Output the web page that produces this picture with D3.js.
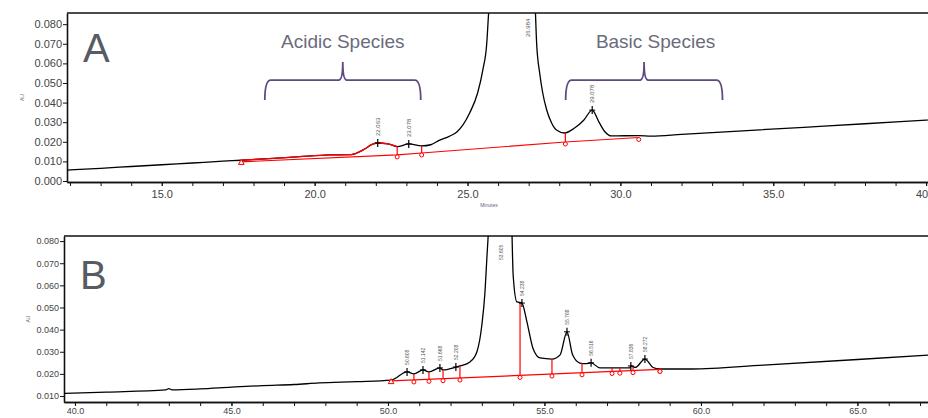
<!DOCTYPE html>
<html>
<head>
<meta charset="utf-8">
<script src="https://cdn.jsdelivr.net/npm/d3@7"></script>
<style>
  body { margin: 0; background: #fff; }
  svg { display: block; font-family: "Liberation Sans", Arial, sans-serif; }
  .tick text { fill: #444; }
  .domain, .tick line { stroke: #111; }
</style>
</head>
<body>
<svg id="chart" width="928" height="418"></svg>
<script>
// ---- panel A data (minutes, AU) ----
var topMinutes = [11.9, 13.0, 14.0, 15.0, 16.0, 17.0, 17.6, 18.5, 19.5, 20.5, 21.2, 21.6, 21.9, 22.06, 22.4, 22.7,
  23.08, 23.5, 23.8, 24.09, 24.4, 24.65, 25.07, 25.33, 25.5, 25.63, 25.69, 25.9, 26.5, 27.0, 27.2, 27.26, 27.36,
  27.46, 27.59, 27.75, 27.91, 28.17, 28.5, 28.8, 29.08, 29.3, 29.5, 29.7, 30.6, 31.0, 32.0, 34.0, 36.0, 38.0, 40.0, 41.5];
var topAU = [0.0056, 0.0065, 0.0074, 0.0083, 0.0092, 0.0101, 0.0106, 0.0114, 0.0124, 0.0133, 0.0135, 0.0160, 0.0188, 0.0194, 0.0190, 0.0175,
  0.0189, 0.0179, 0.0185, 0.0209, 0.0228, 0.0250, 0.0347, 0.0449, 0.0566, 0.0704, 0.0857, 0.115, 0.14, 0.13, 0.095, 0.0704, 0.0551,
  0.0449, 0.0362, 0.0296, 0.0260, 0.0245, 0.0270, 0.0310, 0.0362, 0.0300, 0.0250, 0.0230, 0.0232, 0.0229, 0.0238, 0.0256, 0.0274, 0.0292, 0.0311, 0.0325];
var topBaseMinutes = [17.6, 22.7, 23.5, 28.2, 30.6];
var topBaseAU = [0.0098, 0.0133, 0.0143, 0.0199, 0.0222];
var topDrops = [22.7, 23.5, 28.2];
var topPeakTimes = [22.063, 23.078, 26.984, 29.078];
var topPeakLabels = ["22.063", "23.078", "26.984", "29.078"];
var topYTicks = [0, 0.01, 0.02, 0.03, 0.04, 0.05, 0.06, 0.07, 0.08];
var topXTicks = [15, 20, 25, 30, 35, 40];
var bracketNames = ["Acidic Species", "Basic Species"];
var bracketStart = [18.37, 28.21];
var bracketEnd = [23.47, 33.34];
var bracketTextAt = [20.92, 31.15];

// ---- panel B data ----
var botMinutes = [39.65, 41.0, 42.9, 43.0, 43.1, 44.0, 45.0, 46.0, 47.0, 47.8, 49.0, 50.1, 50.61, 50.83, 51.12, 51.31, 51.66, 51.76,
  52.17, 52.3, 52.62, 52.84, 53.0, 53.1, 53.16, 53.2, 53.3, 53.6, 53.9, 53.96, 54.0, 54.12, 54.28, 54.44, 54.63, 54.86,
  55.24, 55.5, 55.72, 55.9, 56.13, 56.3, 56.49, 56.77, 57.73, 57.76, 57.9, 58.21, 58.47, 58.69, 59.7, 62.0, 65.0, 67.5];
var botAU = [0.0112, 0.0118, 0.0128, 0.0133, 0.0128, 0.0132, 0.0140, 0.0147, 0.0152, 0.0159, 0.0165, 0.0172, 0.0209, 0.0200, 0.0218, 0.0209, 0.0227, 0.0218,
  0.0231, 0.0236, 0.0254, 0.0299, 0.0421, 0.0570, 0.0724, 0.0820, 0.12, 0.15, 0.12, 0.085, 0.0647, 0.0525, 0.0520, 0.0435, 0.0317, 0.0272,
  0.0267, 0.0286, 0.0390, 0.0286, 0.0249, 0.0246, 0.0250, 0.0227, 0.0227, 0.0236, 0.0229, 0.0267, 0.0229, 0.0222, 0.0222, 0.0240, 0.0265, 0.0287];
var botBaseMinutes = [50.1, 58.69];
var botBaseAU = [0.0168, 0.0220];
var botDrops = [50.83, 51.31, 51.76, 52.3, 54.22, 55.24, 56.2, 57.16, 57.41, 57.83, 58.69];
var botPeakTimes = [50.61, 51.12, 51.66, 52.17, 53.6, 54.28, 55.72, 56.49, 57.76, 58.21];
var botPeakLabels = ["50.608", "51.142", "51.668", "52.208", "53.605", "54.238", "55.768", "56.516", "57.836", "58.272"];
var botYTicks = [0.01, 0.02, 0.03, 0.04, 0.05, 0.06, 0.07, 0.08];
var botXTicks = [40, 45, 50, 55, 60, 65];

var svg = d3.select("#chart");

function drawPanel(cfg) {
  var x = d3.scaleLinear().domain(cfg.xDomain).range([cfg.left, cfg.right]);
  var y = d3.scaleLinear().domain(cfg.yDomain).range([cfg.bottom, cfg.top]);
  var g = svg.append("g");

  var clipId = "clip" + cfg.name;
  g.append("clipPath").attr("id", clipId)
    .append("rect")
    .attr("x", cfg.left).attr("y", cfg.top)
    .attr("width", cfg.right - cfg.left).attr("height", cfg.bottom - cfg.top);

  // axes
  var yAxis = d3.axisLeft(y).tickValues(cfg.yTicks).tickFormat(d3.format(".3f"))
    .tickSize(4).tickPadding(1).tickSizeOuter(0);
  g.append("g").attr("transform", "translate(" + cfg.left + ",0)").call(yAxis)
    .selectAll("text").style("font-size", cfg.tickFont + "px");

  var minor = d3.range(Math.ceil(cfg.xDomain[0]), Math.floor(cfg.xDomain[1]) + 1);
  g.append("g").attr("transform", "translate(0," + cfg.bottom + ")")
    .call(d3.axisBottom(x).tickValues(minor).tickFormat("").tickSize(4).tickSizeOuter(0));
  g.append("g").attr("transform", "translate(0," + cfg.bottom + ")")
    .call(d3.axisBottom(x).tickValues(cfg.xTicks).tickFormat(d3.format(".1f")).tickSize(4).tickPadding(cfg.xPad).tickSizeOuter(0))
    .selectAll("text").style("font-size", cfg.tickFont + "px");

  g.selectAll(".domain").attr("stroke-width", 1.6);

  // frame top line
  g.append("line")
    .attr("x1", cfg.left).attr("x2", cfg.right)
    .attr("y1", cfg.top).attr("y2", cfg.top)
    .attr("stroke", "#111").attr("stroke-width", 1.6);

  // AU label
  g.append("text")
    .attr("transform", "translate(" + cfg.auX + "," + ((cfg.top + cfg.bottom) / 2) + ") rotate(-90)")
    .attr("text-anchor", "middle")
    .style("font-size", "5px").style("fill", "#6a5a8a")
    .text("AU");

  // panel letter
  g.append("text")
    .attr("x", cfg.left + 16).attr("y", cfg.letterY)
    .style("font-size", "40px").style("fill", "#575b63")
    .text(cfg.name);

  var plot = g.append("g").attr("clip-path", "url(#" + clipId + ")");
  var line = d3.line().x(function(d) { return x(d[0]); }).y(function(d) { return y(d[1]); });
  var smooth = d3.line().curve(d3.curveMonotoneX).x(function(d) { return x(d[0]); }).y(function(d) { return y(d[1]); });
  var sig = cfg.minutes.map(function(m, i) { return [m, cfg.au[i]]; });
  function sigAt(m) {
    var i = d3.bisector(function(d) { return d[0]; }).left(sig, m);
    if (i <= 0) return sig[0][1];
    if (i >= sig.length) return sig[sig.length - 1][1];
    var a = sig[i - 1], b = sig[i];
    return a[1] + (b[1] - a[1]) * (m - a[0]) / (b[0] - a[0]);
  }
  var base = cfg.baseMinutes.map(function(m, i) { return [m, cfg.baseAU[i]]; });
  function baseAt(m) {
    for (var i = 1; i < base.length; i++) {
      if (m <= base[i][0]) {
        var a = base[i - 1], b = base[i];
        return a[1] + (b[1] - a[1]) * (m - a[0]) / (b[0] - a[0]);
      }
    }
    return base[base.length - 1][1];
  }

  // signal
  plot.append("path").datum(sig)
    .attr("fill", "none").attr("stroke", "#000").attr("stroke-width", 1.3)
    .attr("d", smooth);

  // red overlay of integrated part of signal (panel A)
  if (cfg.redSignal) {
    var part = sig.filter(function(d) { return d[0] >= cfg.redSignal[0] && d[0] <= cfg.redSignal[1]; });
    plot.append("path").datum(part)
      .attr("fill", "none").attr("stroke", "#ff0000").attr("stroke-width", 1.3)
      .attr("d", smooth);
  }

  // baseline
  plot.append("path").datum(base)
    .attr("fill", "none").attr("stroke", "#ff0000").attr("stroke-width", 1.2)
    .attr("d", line);

  // drop lines and markers
  plot.selectAll(".drop").data(cfg.drops).enter().append("line")
    .attr("class", "drop")
    .attr("x1", function(d) { return x(d); }).attr("x2", function(d) { return x(d); })
    .attr("y1", function(d) { return y(sigAt(d)); })
    .attr("y2", function(d) { return y(baseAt(d)); })
    .attr("stroke", "#ff0000").attr("stroke-width", 1.2);
  var markerTimes = cfg.drops.concat([base[base.length - 1][0]]);
  plot.selectAll(".mark").data(markerTimes).enter().append("circle")
    .attr("class", "mark")
    .attr("cx", function(d) { return x(d); })
    .attr("cy", function(d) { return y(baseAt(d)) + 2; })
    .attr("r", 2).attr("fill", "#fff").attr("stroke", "#ff0000").attr("stroke-width", 1);
  plot.append("path")
    .attr("d", d3.symbol(d3.symbolTriangle, 14)())
    .attr("transform", "translate(" + x(base[0][0]) + "," + (y(base[0][1]) + 1) + ")")
    .attr("fill", "#fff").attr("stroke", "#ff0000").attr("stroke-width", 1);

  // peak apex ticks and labels
  cfg.peakTimes.forEach(function(t, i) {
    var v = sigAt(t);
    var onScale = y(v) > cfg.top + 2;
    var py = Math.max(y(v), cfg.top);
    if (onScale) {
      plot.append("line")
        .attr("x1", x(t)).attr("x2", x(t))
        .attr("y1", py - 4).attr("y2", py + 4)
        .attr("stroke", "#000").attr("stroke-width", 1.2);
      plot.append("line")
        .attr("x1", x(t) - 3).attr("x2", x(t) + 3)
        .attr("y1", py).attr("y2", py)
        .attr("stroke", "#000").attr("stroke-width", 1);
    }
    var ly = onScale ? py - 7 : cfg.top + 24;
    var lx = onScale ? x(t) + 2 : x(t) + 2;
    plot.append("text")
      .attr("transform", "translate(" + lx + "," + ly + ") rotate(-90)")
      .style("font-size", cfg.peakFont + "px").style("fill", "#555")
      .text(cfg.peakLabels[i]);
  });

  // minutes label
  if (cfg.minutesLabel) {
    g.append("text")
      .attr("x", x(25.7)).attr("y", cfg.bottom + 25)
      .attr("text-anchor", "middle")
      .style("font-size", "5px").style("fill", "#6a5a8a")
      .text("Minutes");
  }

  return { x: x, y: y, g: g };
}

var panelA = drawPanel({
  name: "A", xDomain: [11.9, 41.5], yDomain: [-0.0005, 0.0857],
  left: 67, right: 972, top: 13, bottom: 182,
  yTicks: topYTicks, xTicks: topXTicks, tickFont: 11, xPad: 4,
  minutes: topMinutes, au: topAU, baseMinutes: topBaseMinutes, baseAU: topBaseAU,
  drops: topDrops, peakTimes: topPeakTimes, peakLabels: topPeakLabels, peakFont: 6,
  redSignal: [17.6, 22.7], auX: 24, letterY: 62, minutesLabel: true
});

var panelB = drawPanel({
  name: "B", xDomain: [39.65, 68.5], yDomain: [0.0073, 0.0823],
  left: 64, right: 967, top: 236, bottom: 402,
  yTicks: botYTicks, xTicks: botXTicks, tickFont: 9, xPad: 2,
  minutes: botMinutes, au: botAU, baseMinutes: botBaseMinutes, baseAU: botBaseAU,
  drops: botDrops, peakTimes: botPeakTimes, peakLabels: botPeakLabels, peakFont: 5,
  redSignal: null, auX: 30, letterY: 289, minutesLabel: false
});

// curly brackets with captions (panel A)
var bx = panelA.x, by = panelA.y;
bracketNames.forEach(function(name, i) {
  var x0 = bx(bracketStart[i]), x1 = bx(bracketEnd[i]), xm = (x0 + x1) / 2;
  var yb = by(0.0515), ye = by(0.0413), yc = by(0.0607);
  var p = d3.path();
  p.moveTo(x0, ye);
  p.quadraticCurveTo(x0, yb, x0 + 6, yb);
  p.lineTo(xm - 4, yb);
  p.quadraticCurveTo(xm, yb, xm, yc);
  p.quadraticCurveTo(xm, yb, xm + 4, yb);
  p.lineTo(x1 - 6, yb);
  p.quadraticCurveTo(x1, yb, x1, ye);
  panelA.g.append("path").attr("d", p.toString())
    .attr("fill", "none").attr("stroke", "#5e4a80").attr("stroke-width", 1.8);
  panelA.g.append("text")
    .attr("x", bx(bracketTextAt[i])).attr("y", 48)
    .attr("text-anchor", "middle")
    .style("font-size", "19px").style("fill", "#6b6b7c")
    .text(name);
});
</script>
</body>
</html>
